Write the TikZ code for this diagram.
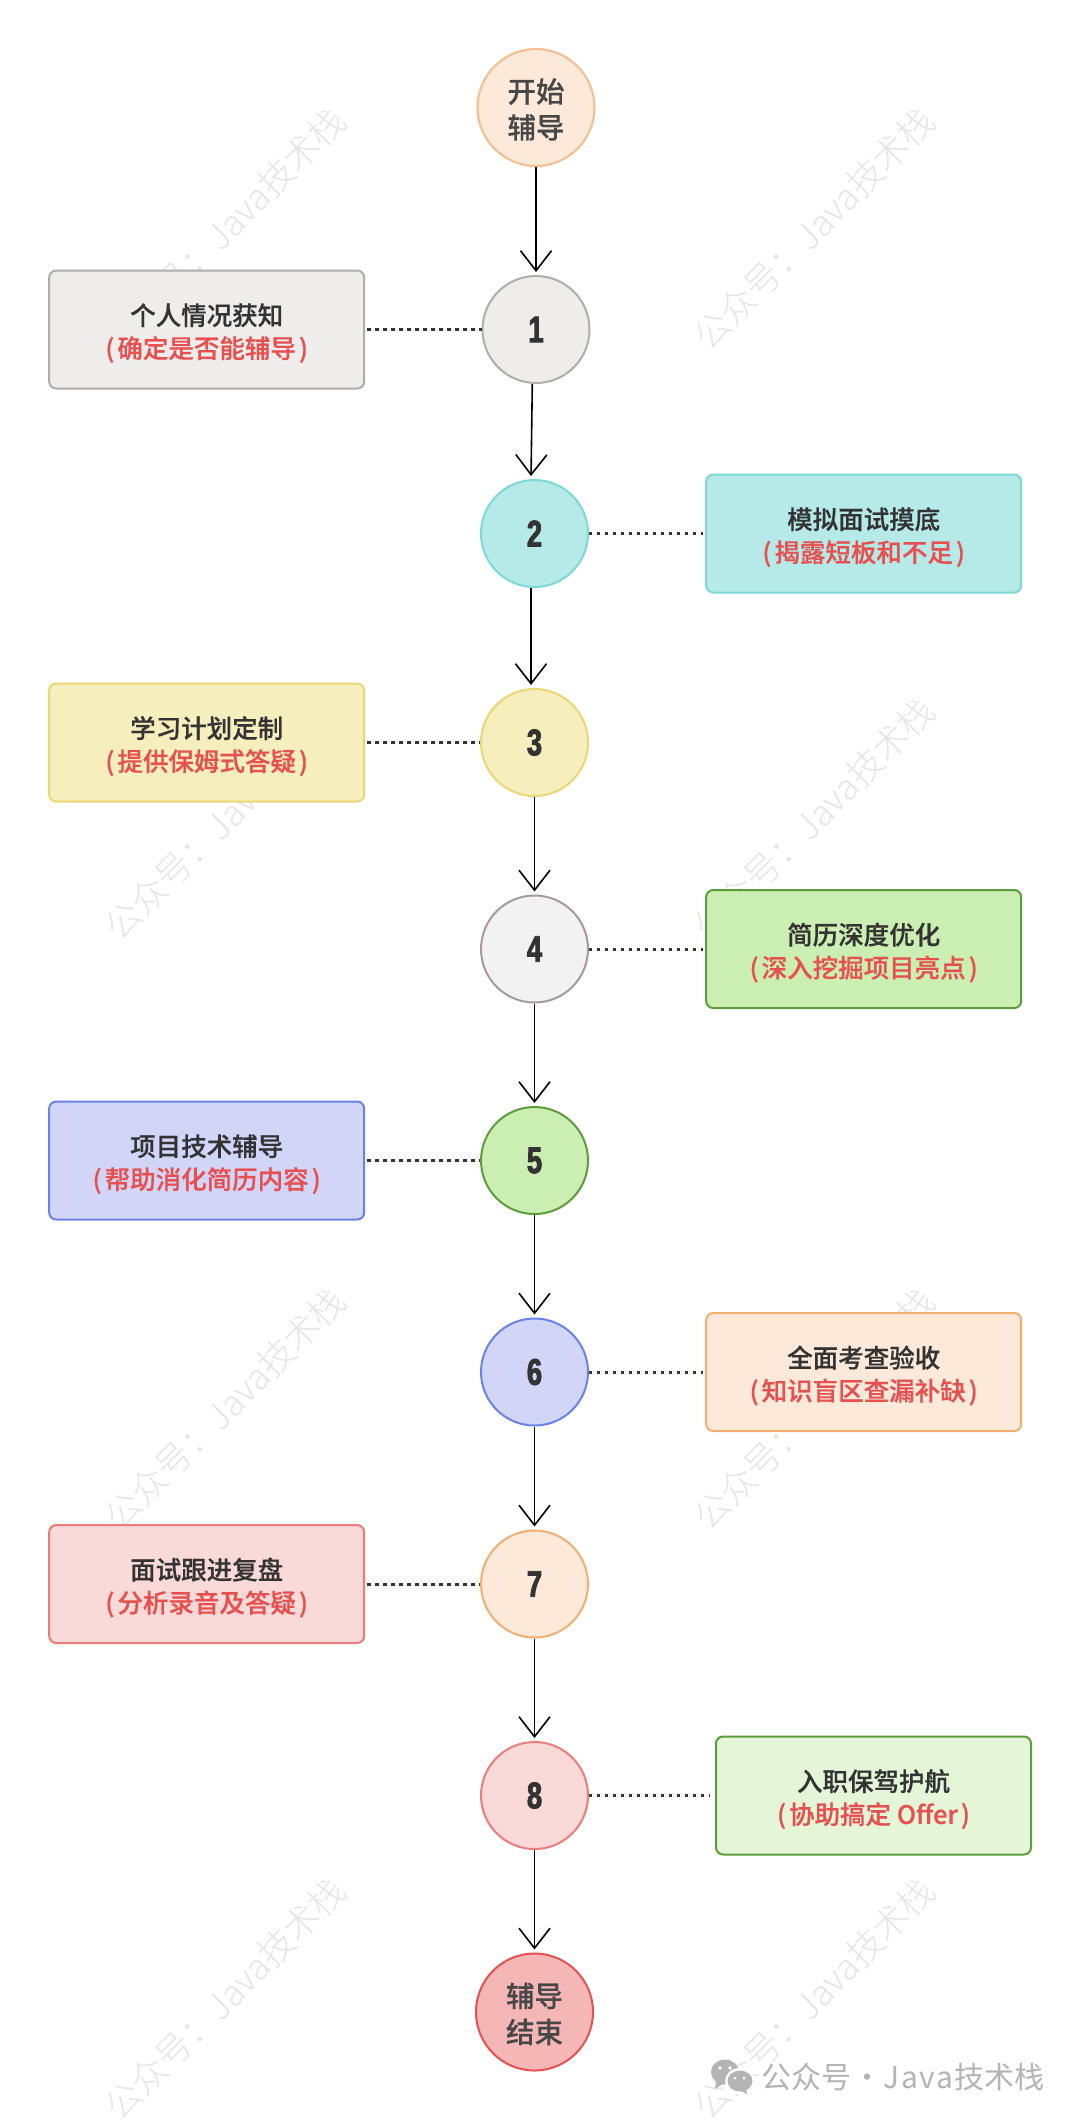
\documentclass[tikz,border=0pt]{standalone}
\usepackage{fontspec}
\usetikzlibrary{arrows.meta,shapes.geometric}
\setmainfont{Noto Sans CJK SC}
\newfontfamily\medfont[FakeBold=0.5]{Noto Sans CJK SC Medium}
\newfontfamily\termfont[FakeBold=0.3]{Noto Sans CJK SC Medium}
\newfontfamily\lightfont{Noto Sans CJK SC Light}
\newfontfamily\numfont[FakeBold=2.4,FakeStretch=0.74]{Liberation Sans Bold}
\definecolor{txt}{HTML}{333333}
\definecolor{redt}{HTML}{E85050}
\definecolor{fPeach}{HTML}{FCE9DA}\definecolor{sPeach}{HTML}{F5BE8C}\definecolor{sOrange}{HTML}{F2AF72}
\definecolor{fGrey}{HTML}{EFEDEC}\definecolor{sGrey}{HTML}{B0ADAD}
\definecolor{fTeal}{HTML}{B5EAE9}\definecolor{sTeal}{HTML}{7DD9D7}
\definecolor{fYel}{HTML}{F6EEBC}\definecolor{sYel}{HTML}{EBD774}
\definecolor{fLight}{HTML}{F2F2F2}\definecolor{sLight}{HTML}{A89A9C}
\definecolor{fGreen}{HTML}{CBEEB2}\definecolor{sGreen}{HTML}{5D9E3C}
\definecolor{fBlue}{HTML}{D1D6F8}\definecolor{sBlue}{HTML}{6B82E8}
\definecolor{fPink}{HTML}{FAD9D9}\definecolor{sPink}{HTML}{EF7C7C}
\definecolor{fPale}{HTML}{E4F5D8}
\definecolor{fEnd}{HTML}{F5B6B6}\definecolor{sEnd}{HTML}{E45252}
\definecolor{wmark}{HTML}{E6E6E6}
\definecolor{brand}{HTML}{B4B4B4}
\newcommand{\lowerline}[2]{\raisebox{-#1pt}[0pt][0pt]{#2}}
\newcommand{\boxtext}[2]{\lowerline{11.9}{\color{txt}#1}\\\lowerline{11.9}{\color{redt}(\kern3pt #2\kern3pt)}}
\newcommand{\termtext}[2]{\lowerline{12.8}{#1}\\\lowerline{12.8}{#2}}
\tikzset{
  circ/.style={circle,draw,line width=2pt,inner sep=0pt,minimum size=107pt,text=txt,font=\numfont\fontsize{37}{37}\selectfont},
  term/.style={circle,draw,line width=2pt,inner sep=0pt,minimum size=117pt,text=txt!90!white,align=center,font=\termfont\fontsize{28.5}{36}\selectfont},
  infobox/.style={rectangle,draw,rounded corners=7pt,line width=2pt,inner sep=0pt,minimum width=315pt,minimum height=118pt,align=center,font=\medfont\fontsize{25.5}{33}\selectfont},
  flow/.style={draw=black,line width=1.6pt,-{Straight Barb[length=20pt,width=31pt,line width=1.6pt]},shorten >=3pt},
  dots/.style={draw=txt,line width=3pt,dash pattern=on 3.3pt off 4.7pt},
  wm/.style={rotate=45,text=wmark,font=\lightfont\fontsize{35.6}{36}\selectfont,inner sep=0pt},
  brandtext/.style={text=brand,anchor=west,inner sep=0pt,font=\fontsize{30}{30}\selectfont},
}
\begin{document}
\begin{tikzpicture}[x=1pt,y=-1pt]
\useasboundingbox (0,0) rectangle (1080,2120);
\fill[white] (0,0) rectangle (1080,2120);
% watermarks
\foreach \wx/\wn in {225/a,814/b}{
  \foreach \wy/\wr in {229/1,819/2,1409/3,1999/4}{
    \node[wm] (wm\wn\wr) at (\wx,\wy) {公众号：Java技术栈};
  }
}
% flow nodes
\node[term,fill=fPeach,draw=sPeach] (start) at (536,107.5) {\termtext{开始}{辅导}};
\node[circ,fill=fGrey,draw=sGrey] (n1) at (536,329.5) {1};
\node[circ,fill=fTeal,draw=sTeal] (n2) at (534.5,533.5) {2};
\node[circ,fill=fYel,draw=sYel] (n3) at (534.5,742.5) {3};
\node[circ,fill=fLight,draw=sLight] (n4) at (534.5,949) {4};
\node[circ,fill=fGreen,draw=sGreen] (n5) at (534.5,1160.5) {5};
\node[circ,fill=fBlue,draw=sBlue] (n6) at (534.5,1372) {6};
\node[circ,fill=fPeach,draw=sOrange] (n7) at (534.5,1584) {7};
\node[circ,fill=fPink,draw=sPink] (n8) at (534.5,1795.5) {8};
\node[term,fill=fEnd,draw=sEnd] (end) at (534.5,2012) {\termtext{辅导}{结束}};
% boxes
\node[infobox,fill=fGrey,draw=sGrey] (b1) at (206.7,329.5) {\boxtext{个人情况获知}{确定是否能辅导}};
\node[infobox,fill=fTeal,draw=sTeal] (b2) at (863.7,533.5) {\boxtext{模拟面试摸底}{揭露短板和不足}};
\node[infobox,fill=fYel,draw=sYel] (b3) at (206.7,742.5) {\boxtext{学习计划定制}{提供保姆式答疑}};
\node[infobox,fill=fGreen,draw=sGreen] (b4) at (863.7,949) {\boxtext{简历深度优化}{深入挖掘项目亮点}};
\node[infobox,fill=fBlue,draw=sBlue] (b5) at (206.7,1160.5) {\boxtext{项目技术辅导}{帮助消化简历内容}};
\node[infobox,fill=fPeach,draw=sOrange] (b6) at (863.7,1372) {\boxtext{全面考查验收}{知识盲区查漏补缺}};
\node[infobox,fill=fPink,draw=sPink] (b7) at (206.7,1584) {\boxtext{面试跟进复盘}{分析录音及答疑}};
\node[infobox,fill=fPale,draw=sGreen] (b8) at (873.5,1795.5) {\boxtext{入职保驾护航}{协助搞定 Offer}};
% connectors
\draw[flow] (start) -- (n1);
\draw[flow] ([xshift=-3.7pt]n1.south) -- ([xshift=-3.5pt]n2.north);
\draw[flow] ([xshift=-3.5pt]n2.south) -- ([xshift=-3.5pt]n3.north);
\draw[flow] (n3) -- (n4);
\draw[flow] (n4) -- (n5);
\draw[flow] (n5) -- (n6);
\draw[flow] (n6) -- (n7);
\draw[flow] (n7) -- (n8);
\draw[flow] (n8) -- (end);
\draw[dots,shorten <=2pt] (b1) -- (n1);
\draw[dots,shorten >=2.5pt] (n2) -- (b2);
\draw[dots,shorten <=2pt] (b3) -- (n3);
\draw[dots,shorten >=2.5pt] (n4) -- (b4);
\draw[dots,shorten <=2pt] (b5) -- (n5);
\draw[dots,shorten >=2.5pt] (n6) -- (b6);
\draw[dots,shorten <=2pt] (b7) -- (n7);
\draw[dots,shorten >=5pt] (n8) -- (b8);
% brand mark
\fill[brand] (725,2072) ellipse [x radius=14,y radius=12.5];
\fill[brand] (716,2081) -- (715,2089) -- (724,2083) -- cycle;
\fill[white] (740,2081) ellipse [x radius=15,y radius=13];
\fill[brand] (740,2081) ellipse [x radius=12.5,y radius=10.5];
\fill[brand] (746,2088) -- (747,2094) -- (739,2090) -- cycle;
\fill[white] (720,2068) circle (1.8) (730,2068) circle (1.8) (735,2078) circle (1.5) (744,2078) circle (1.5);
\node[brandtext] (brandname) at (761.7,2077) {公众号\hbox to 32pt{\hss\textperiodcentered\hss}J\kern1.2pt a\kern1.2pt v\kern1.2pt a\kern2pt 技术栈};
\end{tikzpicture}
\end{document}
